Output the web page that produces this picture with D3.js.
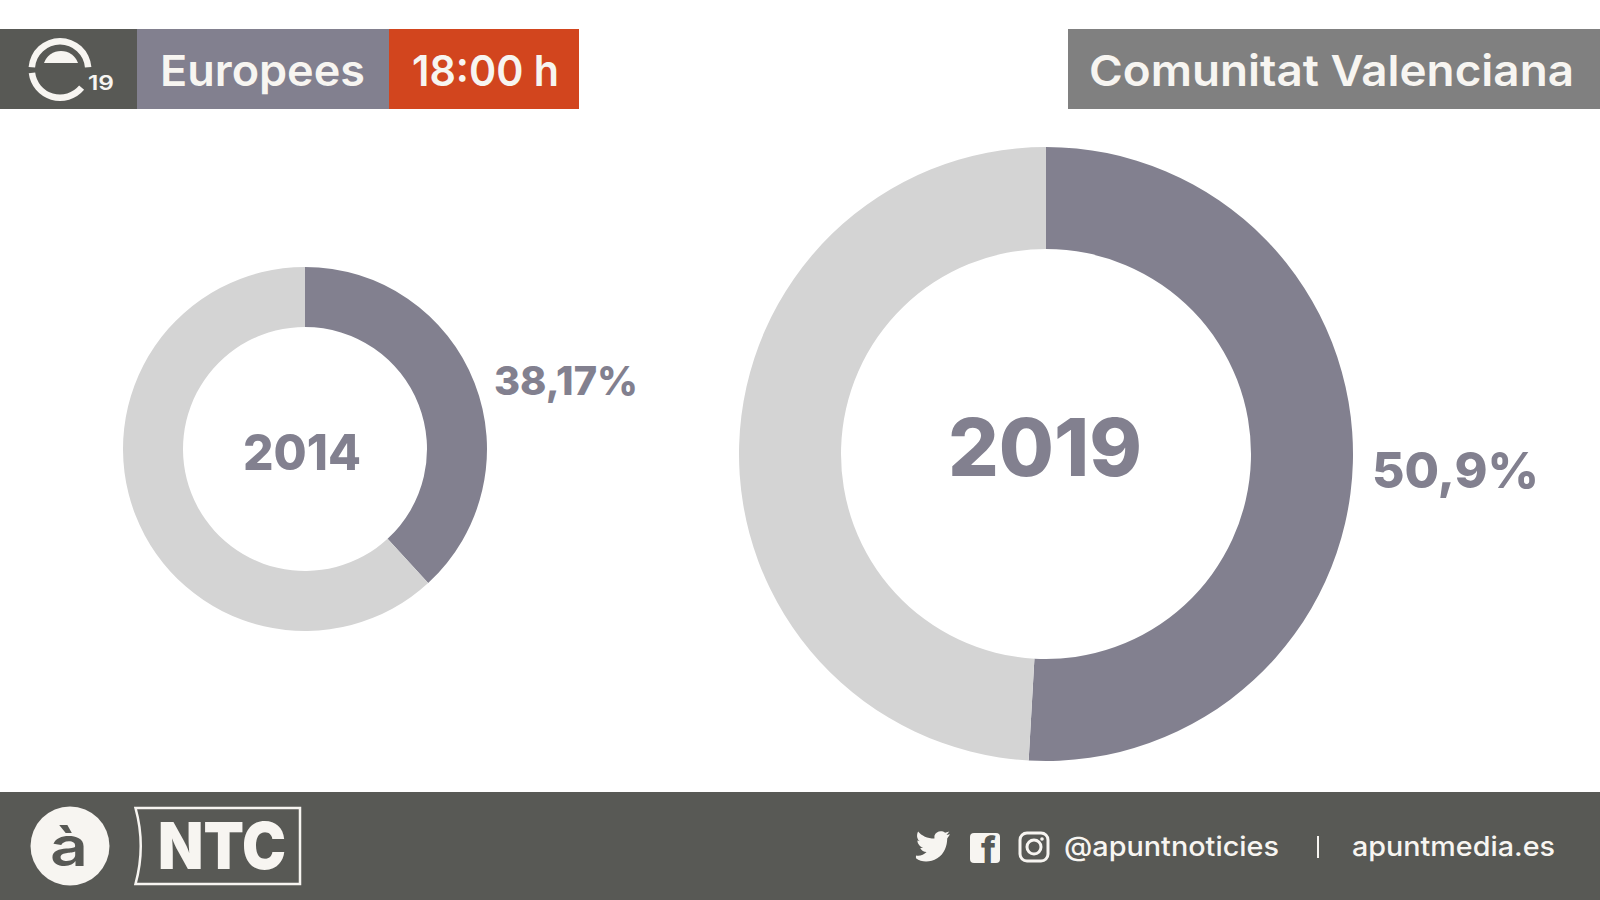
<!DOCTYPE html>
<html><head><meta charset="utf-8">
<script src="https://cdn.jsdelivr.net/npm/d3@7/dist/d3.min.js"></script>
<style>html,body{margin:0;background:#fff}svg{display:block}text{font-family:Inter,"Open Sans",sans-serif}</style>
</head><body><svg id="c" width="1600" height="900"></svg>
<script>
const years = ["2014", "2019"];
const turnout = [38.17, 50.9];
const turnoutLabels = ["38,17%", "50,9%"];
const headerLabels = ["Europees", "18:00 h", "Comunitat Valenciana"];
const handle = "@apuntnoticies", site = "apuntmedia.es";

const INK="#82808f", REST="#d4d4d4", DARK="#585955", PAPER="#f7f5f1", ORANGE="#d2451e", GREY="#808080";
const svg=d3.select("#c");
const rect=(x,y,w,h,f)=>svg.append("rect").attr("x",x).attr("y",y).attr("width",w).attr("height",h).attr("fill",f);
const text=(x,y,s,size,fill,weight,anchor,len)=>{const t=svg.append("text").attr("x",x).attr("y",y).text(s)
  .attr("font-size",size).attr("fill",fill).attr("font-weight",weight).attr("text-anchor",anchor||"start");
  if(len)t.attr("textLength",len).attr("lengthAdjust","spacingAndGlyphs");return t;};

// header
rect(0,29,137,80,DARK);rect(137,29,252,80,INK);rect(389,29,190,80,ORANGE);rect(1068,29,532,80,GREY);
text(160,86,headerLabels[0],43,PAPER,600,"start",205);
text(412,86,headerLabels[1],43,PAPER,600,"start",147);
text(1089,86,headerLabels[2],43,PAPER,600,"start",485);

// e19 logo
const logo=svg.append("g").attr("transform","translate(60,69.5)");
const ring=d3.arc().innerRadius(25).outerRadius(31.5);
logo.append("path").attr("d",ring({startAngle:-1.49,endAngle:1.49})).attr("fill",PAPER);
logo.append("path").attr("d",ring({startAngle:2.27,endAngle:4.59})).attr("fill",PAPER);
svg.append("path").attr("d","M44,63A18,18 0 0 1 78,63Z").attr("fill",PAPER);
text(88,90,"19",20,PAPER,600,"start",26);

// donuts
const geom=[{cx:305,cy:449,R:182,r:122},{cx:1046,cy:454,R:307,r:205}];
const pie=d3.pie().sort(null).value(d=>d);
years.forEach((y,i)=>{
  const g=geom[i];
  const arc=d3.arc().innerRadius(g.r).outerRadius(g.R);
  const host=svg.append("g").attr("transform",`translate(${g.cx},${g.cy})`);
  host.selectAll("path").data(pie([turnout[i],100-turnout[i]])).join("path")
    .attr("d",arc).attr("fill",(d,k)=>k?REST:INK);
});
text(302,470,years[0],50,INK,800,"middle",118);
text(1045,476,years[1],80,INK,800,"middle",194);
text(494,395,turnoutLabels[0],40,INK,800,"start",144);
text(1372,488,turnoutLabels[1],50,INK,800,"start",167);

// footer
rect(0,792,1600,108,DARK);
svg.append("circle").attr("cx",70).attr("cy",846).attr("r",39.5).attr("fill",PAPER);
text(69,866,"à",54,DARK,600,"middle",38);
svg.append("path").attr("d","M135.5,808H300V884H135.5Q146,846 135.5,808Z").attr("fill","none").attr("stroke",PAPER).attr("stroke-width",2.5);
text(158,869,"NTC",65,PAPER,900,"start",128);

// social icons
const ic=svg.append("g");
ic.append("path").attr("transform","translate(933,847) scale(1.42)")
  .attr("d","M-12,8C-8,11-2,11 3,8C8,5 10,-1 10,-6L12,-9L9.5,-8.5L11.5,-11L8.5,-10C6,-12 2,-11 1,-8L1,-6C-4,-6-8,-8-10.5,-11C-12,-8-11,-5-9,-4L-11,-4.500C-11,-2-9,0-7,0.500L-9,0.700C-8,2.500-6.500,3.500-4.500,3.500C-6.500,5.500-9,6.500-12,6Z")
  .attr("fill",PAPER);
rect(970,833,30,30,PAPER).attr("rx",4);
text(981,863,"f",36,DARK,800);
rect(1020,833,28,28,"none").attr("rx",7).attr("stroke",PAPER).attr("stroke-width",3);
svg.append("circle").attr("cx",1034).attr("cy",847).attr("r",7).attr("fill","none").attr("stroke",PAPER).attr("stroke-width",3);
svg.append("circle").attr("cx",1042).attr("cy",839).attr("r",1.8).attr("fill",PAPER);
text(1064,856,handle,27,PAPER,500,"start",215);
rect(1317,836,2,22,PAPER);
text(1352,856,site,27,PAPER,500,"start",203);
</script></body></html>
